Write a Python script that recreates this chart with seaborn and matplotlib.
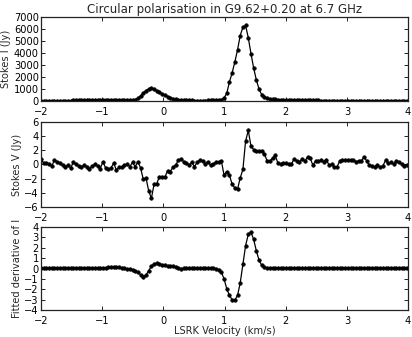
import numpy as np
import pandas as pd
import matplotlib
matplotlib.use("Agg")
import matplotlib.pyplot as plt
import seaborn as sns

# Velocity channels (km/s)
velocity = np.round(-2.0 + 0.044 * np.arange(137), 3)

stokes_i = [
    30, 30, 35, 30, 30, 35, 35, 40, 40, 40, 45, 45, 50, 50, 55, 60, 60, 70, 75, 80,
    90, 100, 110, 120, 125, 120, 115, 105, 95, 85, 75,
    70, 70, 75, 90,
    130, 250, 450, 680, 880, 1010, 1050, 990, 860, 720, 590, 480, 380, 290, 210, 150, 110, 80, 65,
    55, 50, 50, 45, 45, 45, 45, 45, 50, 50, 55,
    60, 80, 120, 260,
    640, 1600, 2350, 3250, 4250, 5450, 6150, 6300, 5280, 3950, 2750, 1750, 1000, 520, 300,
    220, 180, 160, 140, 130, 120, 110, 100, 95, 90, 85, 80, 75, 70, 65, 60, 55,
    52, 50, 50, 48, 48, 46, 45, 44, 43, 42, 42, 41, 40, 40, 39, 38, 38, 37, 36, 36,
    35, 35, 34, 34, 33, 33, 32, 32, 32, 31, 31, 30, 30, 30, 30, 30,
]

stokes_v = [
    0.75, 0.2, 0.25, 0.1, -0.2, 0.6, 0.4, 0.2, -0.1, -0.3,
    -0.1, -0.5, 0.3, 0.0, -0.2, -0.4, -0.1, -0.3, -0.7, -0.2,
    0.0, -0.2, -0.6, 0.4, -0.5, -0.7, -0.5, 0.2, -0.8, -0.4,
    -0.3, -0.1, 0.0, -0.3, 0.3, -0.3, 0.4, -0.5, -2.1, -1.9,
    -3.7, -4.8, -2.8, -2.7, -1.7, -1.7, -1.8, -0.9, -1.0, -0.4,
    -0.1, 0.6, 0.8, 0.4, 0.2, -0.1, 0.3, -0.3, 0.3, 0.6,
    0.55, 0.1, 0.4, -0.1, 0.1, 0.3, 0.3, 0.5, -1.5, -1.0,
    -1.5, -2.8, -3.3, -3.5, -1.9, -0.7, 3.3, 4.8, 2.6, 2.1,
    1.9, 1.9, 1.9, 1.5, 0.5, 0.5, 0.9, 1.3, 0.2, 0.1,
    0.2, 0.2, 0.1, 0.0, 0.8, 0.5, 0.3, 0.8, 0.5, 1.0,
    0.9, -0.1, 0.5, 0.5, 0.6, 0.4, 0.7, -0.1, 0.0, -0.3,
    -0.3, 0.5, 0.6, 0.6, 0.7, 0.6, 0.7, 0.4, 0.5, 0.5,
    1.1, 0.5, -0.1, -0.2, -0.3, -0.1, -0.4, -0.2, 0.6, 0.2,
    0.3, 0.1, 0.5, 0.4, 0.0, -0.2, -0.1,
]

fitted_deriv = [
    0.05, 0.05, 0.05, 0.05, 0.05, 0.05, 0.05, 0.05, 0.05, 0.05,
    0.05, 0.05, 0.05, 0.05, 0.05, 0.05, 0.05, 0.05, 0.05, 0.05,
    0.05, 0.05, 0.05,
    0.06, 0.08, 0.1, 0.12, 0.13, 0.12, 0.1, 0.06, 0.02,
    0.0, -0.05, -0.1, -0.2, -0.35, -0.6, -0.8, -0.65, -0.2, 0.2,
    0.45, 0.5, 0.45, 0.38, 0.3, 0.27, 0.25, 0.2, 0.12, 0.05, 0.0,
    0.02, 0.02, 0.02, 0.02, 0.02, 0.02, 0.02, 0.02, 0.02, 0.02, 0.02, 0.02, 0.0,
    -0.1, -0.35, -1.0, -1.95, -2.6, -3.0, -3.05, -2.6, -1.4, 0.4,
    2.2, 3.3, 3.5, 2.8, 1.7, 0.8, 0.3, 0.12, 0.06,
    0.05, 0.05, 0.05, 0.05, 0.05, 0.05, 0.05, 0.05, 0.05, 0.05,
    0.05, 0.05, 0.05, 0.05, 0.05, 0.05, 0.05, 0.05, 0.05, 0.05,
    0.05, 0.05, 0.05, 0.05, 0.05, 0.05, 0.05, 0.05, 0.05, 0.05,
    0.05, 0.05, 0.05, 0.05, 0.05, 0.05, 0.05, 0.05, 0.05, 0.05,
    0.05, 0.05, 0.05, 0.05, 0.05, 0.05, 0.05, 0.05, 0.05, 0.05,
    0.05, 0.05,
]

ylabels = ["Stokes I (Jy)", "Stokes V (Jy)", "Fitted derivative of I"]
yticks = [list(range(0, 7001, 1000)), list(range(-6, 7, 2)), list(range(-4, 5, 1))]
ylims = [(0, 7000), (-6, 6), (-4, 4)]
xticks = [-2, -1, 0, 1, 2, 3, 4]
title = "Circular polarisation in G9.62+0.20 at 6.7 GHz"
xlabel = "LSRK Velocity (km/s)"

sns.set_style("ticks")
plt.rcParams["font.family"] = ["DejaVu Sans"]
plt.rcParams["xtick.direction"] = "in"
plt.rcParams["ytick.direction"] = "in"

fig = plt.figure(figsize=(4.12, 3.37), dpi=100)
positions = [
    [0.0995, 0.700, 0.891, 0.2496],
    [0.0995, 0.3858, 0.891, 0.2522],
    [0.0995, 0.0801, 0.891, 0.2463],
]

series = [stokes_i, stokes_v, fitted_deriv]
for k, (pos, vals) in enumerate(zip(positions, series)):
    ax = fig.add_axes(pos)
    df = pd.DataFrame({"v": velocity, "y": vals})
    sns.lineplot(data=df, x="v", y="y", ax=ax, color="black", linewidth=0.9,
                 marker="o", markersize=2.6, markeredgecolor="black",
                 markeredgewidth=0.4)
    ax.set_xlim(-2, 4)
    ax.set_ylim(*ylims[k])
    ax.set_xticks(xticks)
    ax.set_xticklabels(["\u22122", "\u22121", "0", "1", "2", "3", "4"])
    ax.set_yticks(yticks[k])
    ax.set_yticklabels([str(t).replace("-", "\u2212") for t in yticks[k]])
    ax.tick_params(axis="both", which="both", labelsize=7.1, length=3, width=0.6,
                   top=True, right=True, colors="black")
    ax.tick_params(axis="x", pad=4)
    ax.tick_params(axis="y", pad=1.5)
    for sp in ax.spines.values():
        sp.set_linewidth(0.9)
        sp.set_color("#222222")
    ax.set_ylabel(ylabels[k], fontsize=7.1, labelpad=2)
    ax.set_xlabel("")
    if k == 0:
        ax.set_title(title, fontsize=8.5, pad=3)
    if k == 2:
        ax.set_xlabel(xlabel, fontsize=7.1, labelpad=0.5)

fig.savefig("out.png", dpi=100)
